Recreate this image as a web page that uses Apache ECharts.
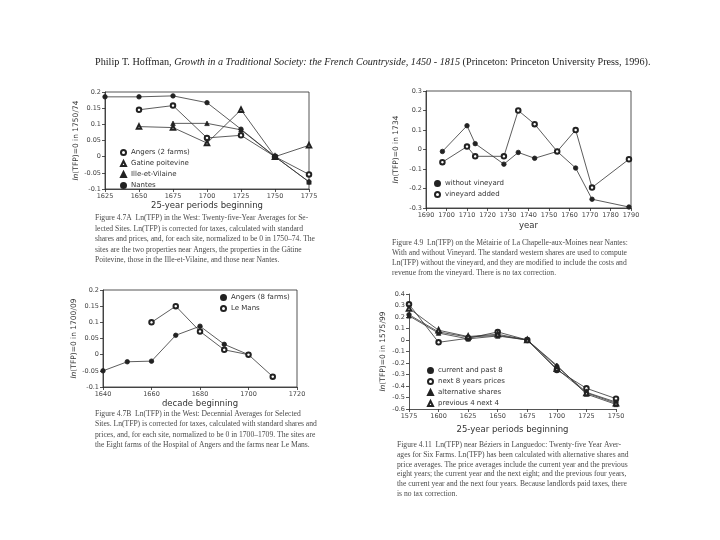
<!DOCTYPE html>
<html><head><meta charset="utf-8">
<script src="https://cdn.jsdelivr.net/npm/echarts@6/dist/echarts.min.js"></script>
<style>html,body{margin:0;background:#fff}#c{width:720px;height:540px}</style>
</head><body><div id="c"></div>
<script>
// ---- Fig 4.7A ----
const yearsA = [1625, 1650, 1675, 1700, 1725, 1750, 1775];
const angers2 = [null, 0.145, 0.158, 0.058, 0.066, 0, -0.055];
const gatine = [null, 0.093, 0.09, 0.042, 0.145, 0, 0.035];
const ille = [null, null, 0.103, 0.103, 0.083, 0, -0.078];
const nantes = [0.185, 0.185, 0.188, 0.167, 0.085, 0, -0.078];
// ---- Fig 4.9 ----
const yearsB = [1698, 1710, 1714, 1728, 1735, 1743, 1754, 1763, 1771, 1789];
const withoutVineyard = [-0.01, 0.122, 0.03, -0.075, -0.015, -0.045, -0.01, -0.095, -0.255, -0.295];
const vineyardAdded = [-0.065, 0.015, -0.035, -0.035, 0.2, 0.13, -0.01, 0.1, -0.195, -0.05];
// ---- Fig 4.7B ----
const decadesC = [1640, 1650, 1660, 1670, 1680, 1690, 1700, 1710];
const angers8 = [-0.05, -0.022, -0.02, 0.06, 0.088, 0.032, 0, null];
const leMans = [null, null, 0.1, 0.15, 0.072, 0.015, 0, -0.068];
// ---- Fig 4.11 ----
const periodsD = [1575, 1600, 1625, 1650, 1675, 1700, 1725, 1750];
const currentPast8 = [0.22, 0.07, 0.025, 0.04, 0, -0.23, -0.455, -0.54];
const next8 = [0.31, -0.02, 0.015, 0.07, 0, -0.26, -0.42, -0.51];
const altShares = [0.21, 0.06, 0.01, 0.035, 0, -0.22, -0.47, -0.56];
const prev4next4 = [0.275, 0.085, 0.03, 0.05, 0, -0.25, -0.46, -0.55];

const headerParts = ['Philip T. Hoffman, ', 'Growth in a Traditional Society: the French Countryside, 1450 - 1815', ' (Princeton: Princeton University Press, 1996).'];
const captionA = [
 'Figure 4.7A  Ln(TFP) in the West: Twenty-five-Year Averages for Se-',
 'lected Sites. Ln(TFP) is corrected for taxes, calculated with standard',
 'shares and prices, and, for each site, normalized to be 0 in 1750–74. The',
 'sites are the two properties near Angers, the properties in the Gâtine',
 'Poitevine, those in the Ille-et-Vilaine, and those near Nantes.'];
const captionB = [
 'Figure 4.9  Ln(TFP) on the Métairie of La Chapelle-aux-Moines near Nantes:',
 'With and without Vineyard. The standard western shares are used to compute',
 'Ln(TFP) without the vineyard, and they are modified to include the costs and',
 'revenue from the vineyard. There is no tax correction.'];
const captionC = [
 'Figure 4.7B  Ln(TFP) in the West: Decennial Averages for Selected',
 'Sites. Ln(TFP) is corrected for taxes, calculated with standard shares and',
 'prices, and, for each site, normalized to be 0 in 1700–1709. The sites are',
 'the Eight farms of the Hospital of Angers and the farms near Le Mans.'];
const captionD = [
 'Figure 4.11  Ln(TFP) near Béziers in Languedoc: Twenty-five Year Aver-',
 'ages for Six Farms. Ln(TFP) has been calculated with alternative shares and',
 'price averages. The price averages include the current year and the previous',
 'eight years; the current year and the next eight; and the previous four years,',
 'the current year and the next four years. Because landlords paid taxes, there',
 'is no tax correction.'];

const FONT = 'DejaVu Sans';
const SERIF = 'Liberation Serif';
const INK = '#2a2a2a';

function xAx(gi, min, max, interval, name, gap) {
  return { type: 'value', gridIndex: gi, min, max, interval, name, nameLocation: 'middle', nameGap: gap,
    nameTextStyle: { fontSize: 8.5, color: '#333', fontFamily: FONT },
    axisLine: { onZero: false, lineStyle: { color: INK, width: 0.8 } },
    axisTick: { length: 3, lineStyle: { color: INK, width: 0.8 } },
    axisLabel: { fontSize: 6.5, color: '#444', margin: 4, fontFamily: FONT, formatter: v => String(v) },
    splitLine: { show: false } };
}
function yAx(gi, min, max, interval, name, gap) {
  return { type: 'value', gridIndex: gi, min, max, interval, name, nameLocation: 'middle', nameGap: gap,
    nameTextStyle: { fontSize: 7.5, color: '#333', fontFamily: FONT, rich: { i: { fontStyle: 'italic', fontSize: 7.5, fontFamily: FONT, color: '#333' } } },
    axisLine: { onZero: false, lineStyle: { color: INK, width: 0.8 } },
    axisTick: { length: 3, lineStyle: { color: INK, width: 0.8 } },
    axisLabel: { fontSize: 6.5, color: '#444', margin: 4, fontFamily: FONT },
    splitLine: { show: false } };
}
function ser(name, gi, xs, ys, symbol) {
  return { name, type: 'line', xAxisIndex: gi, yAxisIndex: gi,
    data: xs.map((x, i) => [x, ys[i]]).filter(p => p[1] !== null),
    symbol, symbolSize: 4.5, showSymbol: true,
    lineStyle: { color: '#333', width: 0.8 },
    itemStyle: { color: '#222', borderColor: '#222', borderWidth: 0.8 },
    emphasis: { disabled: true } };
}
function leg(items, left, top) {
  return { data: items.map(([name, icon]) => ({ name, icon })), orient: 'vertical', left, top,
    itemWidth: 5, itemHeight: 5, itemGap: 4, selectedMode: false, padding: 0,
    textStyle: { fontSize: 7, color: '#333', fontFamily: FONT } };
}
function caption(lines, x, y, lh) {
  return { type: 'text', left: x, top: y, silent: true,
    style: { text: lines.join('\n'), font: '7.6px "' + SERIF + '"', fill: '#4a4a4a', lineHeight: lh } };
}

const gridStyle = { show: true, borderColor: INK, borderWidth: 0.8, backgroundColor: 'transparent' };
const option = {
  animation: false,
  backgroundColor: '#fff',
  grid: [
    Object.assign({ left: 105, top: 92, width: 204, height: 97 }, gridStyle),
    Object.assign({ left: 426, top: 91, width: 205, height: 117 }, gridStyle),
    Object.assign({ left: 103, top: 290, width: 194, height: 97 }, gridStyle),
    { left: 409, top: 294, width: 207, height: 115, show: false }
  ],
  xAxis: [
    xAx(0, 1625, 1775, 25, '25-year periods beginning', 12),
    xAx(1, 1690, 1790, 10, 'year', 13),
    xAx(2, 1640, 1720, 20, 'decade beginning', 10),
    xAx(3, 1575, 1750, 25, '25-year periods beginning', 16)
  ],
  yAxis: [
    yAx(0, -0.1, 0.2, 0.05, '{i|ln}(TFP)=0 in 1750/74', 25),
    yAx(1, -0.3, 0.3, 0.1, '{i|ln}(TFP)=0 in 1734', 26),
    yAx(2, -0.1, 0.2, 0.05, '{i|ln}(TFP)=0 in 1700/09', 25),
    yAx(3, -0.6, 0.4, 0.1, '{i|ln}(TFP)=0 in 1575/99', 22)
  ],
  legend: [
    leg([['Angers (2 farms)', 'emptyCircle'], ['Gatine poitevine', 'emptyTriangle'], ['Ille-et-Vilaine', 'triangle'], ['Nantes', 'circle']], 120, 149),
    leg([['without vineyard', 'circle'], ['vineyard added', 'emptyCircle']], 434, 180),
    leg([['Angers (8 farms)', 'circle'], ['Le Mans', 'emptyCircle']], 220, 294),
    leg([['current and past 8', 'circle'], ['next 8 years prices', 'emptyCircle'], ['alternative shares', 'triangle'], ['previous 4 next 4', 'emptyTriangle']], 427, 367)
  ],
  series: [
    ser('Angers (2 farms)', 0, yearsA, angers2, 'emptyCircle'),
    ser('Gatine poitevine', 0, yearsA, gatine, 'emptyTriangle'),
    ser('Ille-et-Vilaine', 0, yearsA, ille, 'triangle'),
    ser('Nantes', 0, yearsA, nantes, 'circle'),
    ser('without vineyard', 1, yearsB, withoutVineyard, 'circle'),
    ser('vineyard added', 1, yearsB, vineyardAdded, 'emptyCircle'),
    ser('Angers (8 farms)', 2, decadesC, angers8, 'circle'),
    ser('Le Mans', 2, decadesC, leMans, 'emptyCircle'),
    ser('current and past 8', 3, periodsD, currentPast8, 'circle'),
    ser('next 8 years prices', 3, periodsD, next8, 'emptyCircle'),
    ser('alternative shares', 3, periodsD, altShares, 'triangle'),
    ser('previous 4 next 4', 3, periodsD, prev4next4, 'emptyTriangle')
  ],
  graphic: [
    { type: 'text', left: 95, top: 57, silent: true,
      style: { text: '{n|' + headerParts[0] + '}{it|' + headerParts[1] + '}{n|' + headerParts[2] + '}',
        rich: { n: { font: '10.2px "' + SERIF + '"', fill: '#222' }, it: { font: 'italic 10.2px "' + SERIF + '"', fill: '#222' } } } },
    caption(captionA, 95, 213, 10.5),
    caption(captionB, 392, 238, 10),
    caption(captionC, 95, 409, 10.2),
    caption(captionD, 397, 440, 9.8)
  ]
};
const chart = echarts.init(document.getElementById('c'), null, { renderer: 'canvas' });
chart.setOption(option);
</script></body></html>
